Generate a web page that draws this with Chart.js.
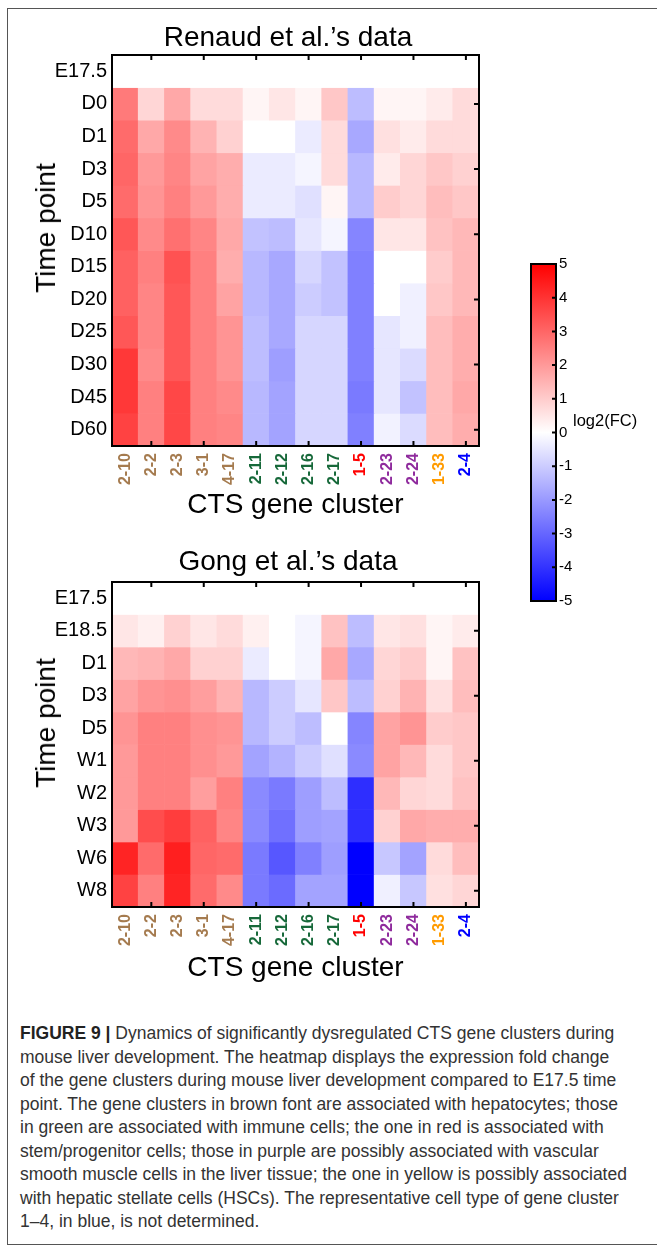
<!DOCTYPE html>
<html>
<head>
<meta charset="utf-8">
<script src="https://cdn.jsdelivr.net/npm/chart.js@4.4.0/dist/chart.umd.min.js"></script>
<style>
  html, body { margin:0; padding:0; background:#fff; width:657px; height:1254px; overflow:hidden;
    font-family:"Liberation Sans", Arial, sans-serif; }
  #frame { position:absolute; left:7px; top:8px; width:720px; height:1237px; border:1.5px solid #555; box-sizing:border-box; }
  canvas { position:absolute; }
  .ytitle { position:absolute; font-size:28px; color:#000; white-space:nowrap;
    transform: translate(-50%, -50%) rotate(-90deg); }
  #cblabel { position:absolute; left:573px; top:411px; font-size:16.5px; color:#000; white-space:nowrap; }
  #caption { position:absolute; left:20px; top:1022px; font-size:17.5px; line-height:23.5px; color:#333; white-space:nowrap; }
  #caption b { color:#222; }
</style>
</head>
<body>
<div id="frame"></div>
<canvas id="c1" width="576" height="526" style="left:0;top:0;"></canvas>
<canvas id="c2" width="576" height="467" style="left:0;top:520px;"></canvas>
<canvas id="cb" width="157" height="380" style="left:500px;top:240px;"></canvas>
<div class="ytitle" style="left:46px;top:228px;">Time point</div>
<div class="ytitle" style="left:46px;top:723px;">Time point</div>
<div id="cblabel">log2(FC)</div>
<div id="caption"><b>FIGURE 9 |</b> Dynamics of significantly dysregulated CTS gene clusters during<br>mouse liver development. The heatmap displays the expression fold change<br>of the gene clusters during mouse liver development compared to E17.5 time<br>point. The gene clusters in brown font are associated with hepatocytes; those<br>in green are associated with immune cells; the one in red is associated with<br>stem/progenitor cells; those in purple are possibly associated with vascular<br>smooth muscle cells in the liver tissue; the one in yellow is possibly associated<br>with hepatic stellate cells (HSCs). The representative cell type of gene cluster<br>1–4, in blue, is not determined.</div>

<script>
// ---------- data ----------
const clusters = ['2-10','2-2','2-3','3-1','4-17','2-11','2-12','2-16','2-17','1-5','2-23','2-24','1-33','2-4'];
const BROWN = '#a57b4f', GREEN = '#17693a', RED = '#ff0000', PURPLE = '#8f2b9d', ORANGE = '#ff9b00', BLUE = '#0000ff';
const clusterColors = [BROWN, BROWN, BROWN, BROWN, BROWN, GREEN, GREEN, GREEN, GREEN, RED, PURPLE, PURPLE, ORANGE, BLUE];

const renaudTimes = ['E17.5','D0','D1','D3','D5','D10','D15','D20','D25','D30','D45','D60'];
const renaudE175 = [0,0,0,0,0,0,0,0,0,0,0,0,0,0];
const renaudD0  = [2.6,0.8,1.7,0.7,0.7,0.2,0.5,0.2,1.1,-1.3,0.2,0.2,0.4,0.7];
const renaudD1  = [2.9,1.7,2.3,1.5,0.9,0,0,-0.4,0.7,-1.7,0.6,0.4,0.7,0.7];
const renaudD3  = [3.0,2.0,2.4,1.8,1.6,-0.4,-0.4,-0.2,0.7,-1.4,0.4,0.8,1.1,0.9];
const renaudD5  = [2.9,2.1,2.5,2.0,1.6,-0.4,-0.4,-0.6,0.2,-1.4,1.0,0.8,1.3,1.1];
const renaudD10 = [3.3,2.3,2.8,2.4,1.7,-1.2,-1.3,-0.5,-0.2,-2.4,0.5,0.5,1.2,1.4];
const renaudD15 = [3.1,2.5,3.4,2.5,1.6,-1.4,-1.7,-0.8,-1.2,-2.5,0,0,1.0,1.4];
const renaudD20 = [3.1,2.4,3.3,2.5,1.8,-1.4,-1.7,-1.0,-1.2,-2.5,0,-0.3,1.1,1.4];
const renaudD25 = [3.3,2.4,3.3,2.5,2.1,-1.3,-1.7,-0.8,-0.8,-2.5,-0.5,-0.3,1.3,1.6];
const renaudD30 = [3.9,2.3,3.3,2.5,2.1,-1.3,-1.9,-0.8,-0.8,-2.5,-0.5,-0.7,1.3,1.6];
const renaudD45 = [3.9,2.5,3.6,2.5,2.3,-1.4,-1.8,-0.8,-0.8,-2.6,-0.5,-1.2,1.3,1.7];
const renaudD60 = [3.7,2.5,3.6,2.5,2.4,-1.4,-1.8,-0.8,-0.8,-2.5,-0.25,-0.7,1.3,1.6];

const gongTimes = ['E17.5','E18.5','D1','D3','D5','W1','W2','W3','W6','W8'];
const gongE175 = [0,0,0,0,0,0,0,0,0,0,0,0,0,0];
const gongE185 = [0.5,0.3,0.9,0.5,0.7,0.3,0,-0.2,1.2,-1.3,0.5,0.6,0.2,0.4];
const gongD1   = [1.4,1.5,1.7,0.9,0.9,-0.4,0,-0.2,1.7,-1.7,0.8,1.0,0.2,1.2];
const gongD3   = [1.8,2.1,2.2,1.9,1.5,-1.4,-1.0,-0.5,1.1,-1.3,0.9,1.5,0.6,1.3];
const gongD5   = [2.1,2.5,2.5,2.2,2.1,-1.4,-1.0,-1.3,0,-2.4,1.8,2.1,1.0,1.1];
const gongW1   = [2.0,2.5,2.5,2.2,2.0,-1.8,-1.5,-1.0,-0.6,-2.3,1.8,1.4,0.7,1.1];
const gongW2   = [2.0,2.5,2.5,1.9,2.5,-2.3,-2.6,-1.9,-1.3,-4.1,1.4,0.8,0.7,1.2];
const gongW3   = [2.0,3.5,3.8,3.1,2.4,-2.3,-2.8,-1.9,-1.8,-4.1,0.9,1.7,1.6,1.6];
const gongW6   = [4.3,2.9,4.4,3.0,2.9,-2.6,-3.3,-2.5,-1.9,-5.0,-1.1,-1.8,0.7,1.3];
const gongW8   = [3.7,2.5,4.3,2.9,2.3,-2.6,-2.9,-1.8,-1.8,-5.0,-0.3,-1.1,0.6,0.8];

const colorbarRange = [-5, 5];

// ---------- helpers ----------
const FONT = '"Liberation Sans", Arial, Helvetica, sans-serif';

function heatColor(v) {
  const t = Math.min(1, Math.abs(v) / 5);
  const c = Math.round(255 * (1 - t));
  return v >= 0 ? `rgb(255,${c},${c})` : `rgb(${c},${c},255)`;
}

const frameTicksPlugin = {
  id: 'frameTicks',
  afterDraw(chart, args, opts) {
    const { ctx, chartArea: { left, right, top, bottom } } = chart;
    ctx.save();
    ctx.strokeStyle = '#000';
    ctx.lineWidth = 2;
    ctx.strokeRect(left, top, right - left, bottom - top);
    ctx.lineWidth = 2;
    ctx.beginPath();
    if (opts.heat) {
      const x = chart.scales.x, y = chart.scales.y;
      for (let i = 1; i < clusters.length; i += 2) {
        const px = x.getPixelForValue(i);
        ctx.moveTo(px, top); ctx.lineTo(px, top + 5);
        ctx.moveTo(px, bottom); ctx.lineTo(px, bottom - 5);
      }
      for (let i = 1; i < opts.rows; i += 2) {
        const py = y.getPixelForValue(i);
        ctx.moveTo(right + 1, py); ctx.lineTo(right - 5, py);
      }
    } else {
      const y = chart.scales.y;
      y.ticks.forEach(t => {
        const py = y.getPixelForValue(t.value);
        ctx.moveTo(right + 1, py); ctx.lineTo(right - 4, py);
      });
    }
    ctx.stroke();
    ctx.restore();
  }
};

function makeHeatmap(id, title, times, matrix, g) {
  const datasets = matrix.map((row, i) => ({
    label: times[i],
    data: row.map(() => [i - 0.5, i + 0.5]),
    backgroundColor: row.map(heatColor),
    borderWidth: 0,
    grouped: false,
    categoryPercentage: 1,
    barPercentage: 1
  }));
  return new Chart(document.getElementById(id), {
    type: 'bar',
    data: { labels: clusters, datasets },
    options: {
      responsive: false,
      devicePixelRatio: 1,
      animation: false,
      events: [],
      layout: { padding: 0 },
      plugins: {
        legend: { display: false },
        tooltip: { enabled: false },
        title: {
          display: true, text: title, color: '#000',
          font: { family: FONT, size: 28, weight: 'normal', lineHeight: 1.2 },
          padding: { top: g.titleTop, bottom: g.titleBottom }
        },
        frameTicks: { heat: true, rows: times.length }
      },
      scales: {
        x: {
          type: 'category', offset: true,
          grid: { display: false, drawTicks: false },
          border: { display: false },
          ticks: {
            autoSkip: false, minRotation: 90, maxRotation: 90, padding: 7,
            color: (c) => clusterColors[c.index],
            font: { family: FONT, size: 16, weight: 'bold' }
          },
          title: {
            display: true, text: 'CTS gene cluster', color: '#000',
            font: { family: FONT, size: 28, weight: 'normal', lineHeight: 1.2 },
            padding: { top: 0, bottom: g.xTitleBottom }
          },
          afterFit: (s) => { s.height = g.xHeight; }
        },
        y: {
          type: 'linear', position: 'left',
          min: -0.5, max: times.length - 0.5, reverse: true,
          afterBuildTicks: (s) => { s.ticks = times.map((t, i) => ({ value: i })); },
          grid: { display: false, drawTicks: false },
          border: { display: false },
          ticks: {
            padding: 5, color: '#000',
            font: { family: FONT, size: 20 },
            callback: (v) => times[v]
          },
          afterFit: (s) => { s.width = 112; }
        },
        yr: {
          type: 'linear', position: 'right', display: true,
          grid: { display: false, drawTicks: false },
          border: { display: false },
          ticks: { display: false },
          afterFit: (s) => { s.width = 576 - 479; }
        }
      }
    },
    plugins: [frameTicksPlugin]
  });
}

makeHeatmap('c1', 'Renaud et al.\u2019s data', renaudTimes,
  [renaudE175, renaudD0, renaudD1, renaudD3, renaudD5, renaudD10, renaudD15, renaudD20, renaudD25, renaudD30, renaudD45, renaudD60],
  { titleTop: 21.4, titleBottom: 0, xHeight: 80, xTitleBottom: 4 });

makeHeatmap('c2', 'Gong et al.\u2019s data', gongTimes,
  [gongE175, gongE185, gongD1, gongD3, gongD5, gongW1, gongW2, gongW3, gongW6, gongW8],
  { titleTop: 25.2, titleBottom: 3.2, xHeight: 80, xTitleBottom: 2.2 });

// ---------- colour bar ----------
new Chart(document.getElementById('cb'), {
  type: 'bar',
  data: {
    labels: ['log2(FC)'],
    datasets: [{
      data: [colorbarRange],
      backgroundColor: (c) => {
        const chart = c.chart;
        const y = chart.scales.y;
        if (!chart.chartArea || !y) return '#fff';
        const grad = chart.ctx.createLinearGradient(0, y.getPixelForValue(colorbarRange[0]), 0, y.getPixelForValue(colorbarRange[1]));
        grad.addColorStop(0, heatColor(colorbarRange[0]));
        grad.addColorStop(0.5, heatColor(0));
        grad.addColorStop(1, heatColor(colorbarRange[1]));
        return grad;
      },
      borderWidth: 0,
      categoryPercentage: 1,
      barPercentage: 1
    }]
  },
  options: {
    responsive: false,
    devicePixelRatio: 1,
    animation: false,
    events: [],
    layout: { padding: { left: 31, top: 24, bottom: 19, right: 0 } },
    plugins: { legend: { display: false }, tooltip: { enabled: false }, frameTicks: { heat: false } },
    scales: {
      x: { display: false, offset: true },
      y: {
        type: 'linear', position: 'right', min: colorbarRange[0], max: colorbarRange[1],
        grid: { display: false, drawTicks: false },
        border: { display: false },
        ticks: { stepSize: 1, padding: 3, color: '#000', font: { family: FONT, size: 15 } },
        afterFit: (s) => { s.width = 101; }
      }
    }
  },
  plugins: [frameTicksPlugin]
});
</script>
</body>
</html>
